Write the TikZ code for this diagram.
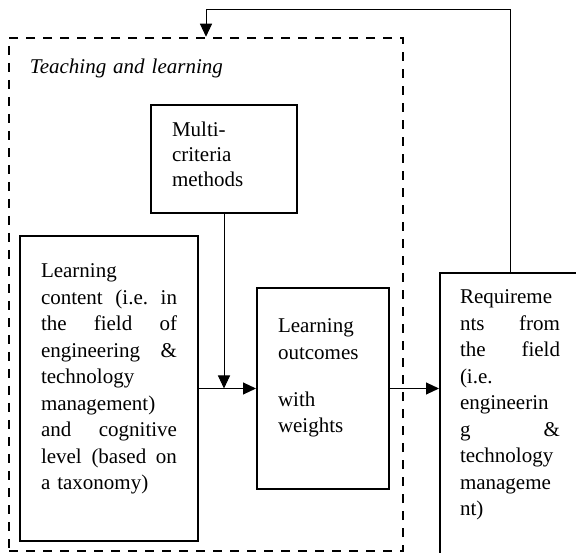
\documentclass[tikz,border=0pt]{standalone}
\usepackage{fontspec}
\setmainfont{Liberation Serif}
\usetikzlibrary{arrows.meta}
\newcommand{\spread}[1]{\leavevmode\hbox to\hsize{#1}}

\begin{document}
\begin{tikzpicture}[x=1pt, y=-1pt,
    every node/.style={font=\fontsize{21}{26.5}\selectfont},
    box/.style={draw, line width=2pt, inner ysep=0pt, inner xsep=21pt, align=left},
    frame/.style={draw, line width=2.5pt, dash pattern=on 9pt off 8pt, inner ysep=0pt, inner xsep=21pt, align=left},
    link/.style={-{Triangle[length=13pt, width=12pt]}, line width=1pt}]
            \useasboundingbox (0,0) rectangle (576,553);
            \clip (0,0) rectangle (576,553);

            % Teaching and learning
            \node[frame, text width=352pt, text height=35.5pt, text depth=477.5pt] (teach) at (206,294.5) {\textit{Teaching and learning}};

            % Multi-criteria methods
            \node[box, text width=104pt, text height=32pt, text depth=76pt, font=\fontsize{21}{25}\selectfont] (multi) at (224,159) {Multi-\\criteria\\methods};

            % Learning content
            \node[box, text width=136pt, text height=42pt, text depth=263pt] (content) at (109,388.5) {Learning\\\spread{content\hfill (i.e.\hfill in}\\\spread{the\hfill field\hfill of}\\\spread{engineering\hfill \&}\\technology\\management)\\\spread{and\hfill cognitive}\\\spread{level\hfill (based\hfill on}\\a taxonomy)};

            % Learning outcomes
            \node[box, text width=90pt, text height=44.5pt, text depth=155.5pt] (outcomes) at (323,388.5) {Learning\\outcomes\\[20.5pt]with\\weights};

            % Requirements
            \node[box, inner xsep=20pt, text width=100pt, text height=31pt, text depth=316pt] (req) at (510,446.5) {Requireme\\\spread{nts\hfill from}\\\spread{the\hfill field}\\(i.e.\\engineerin\\\spread{g\hfill \&}\\technology\\manageme\\nt)};

            % Arrows
            \coordinate (join) at (multi.south |- content.east);
            \coordinate (top) at (206,10);
            \draw[link] (multi.south) -- (join);
            \draw[link] (content.east) -- (outcomes.west);
            \draw[link] (outcomes.east) -- (outcomes.east -| req.west);
            \draw[link] (req.north) |- (top) -- (teach.north);
        \end{tikzpicture}
\end{document}
